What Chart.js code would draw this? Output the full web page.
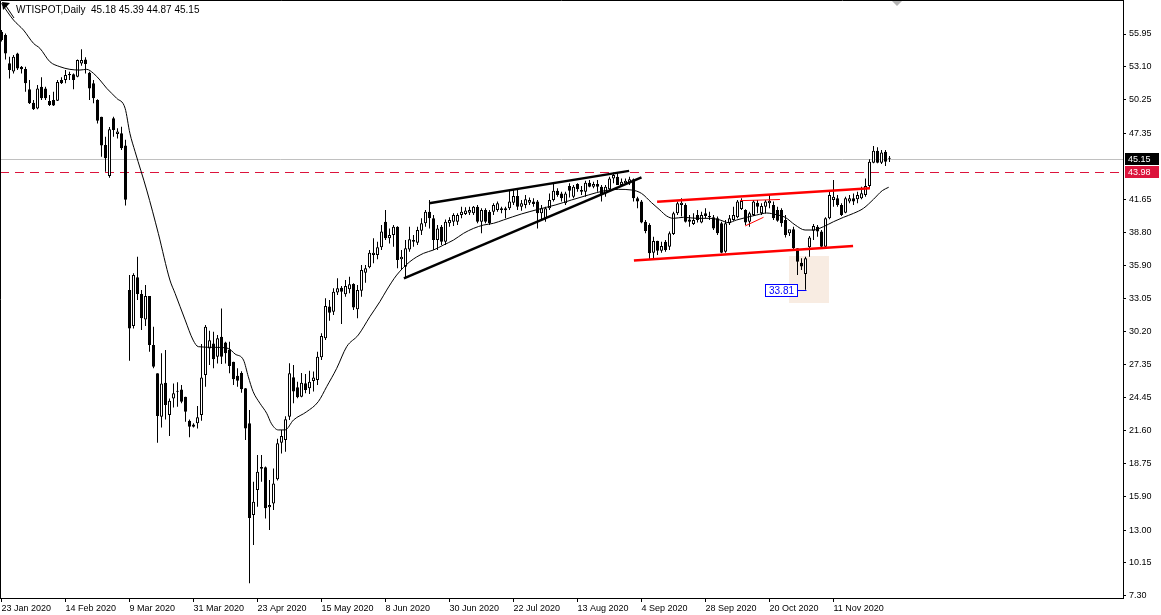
<!DOCTYPE html>
<html>
<head>
<meta charset="utf-8">
<title>WTISPOT Daily</title>
<script src="https://cdn.jsdelivr.net/npm/chart.js@4.4.1/dist/chart.umd.min.js"></script>
<style>
  html, body { margin: 0; padding: 0; background: #fff; }
  canvas { display: block; }
</style>
</head>
<body>
<canvas id="wtiChart" width="1161" height="615"></canvas>
<script>
// daily bars, index 0 = 23 Jan 2020
const opens = [
  56.15, 55.86, 53.41, 52.70, 54.27, 53.12, 52.92, 51.16, 50.00, 49.51,
  51.39, 51.24, 50.15, 50.23, 50.17, 51.97, 51.97, 52.37, 52.46, 52.25,
  53.40, 53.75, 52.60, 51.68, 50.23, 48.79, 46.34, 43.65, 48.65, 47.30,
  47.35, 46.30, 33.78, 30.67, 34.88, 33.44, 31.24, 33.26, 29.02, 26.57,
  22.82, 25.76, 22.96, 24.40, 25.07, 25.18, 24.55, 22.47, 22.15, 22.24,
  22.96, 26.42, 28.73, 29.16, 28.00, 29.74, 29.25, 28.64, 27.58, 26.37,
  26.60, 25.27, 22.24, 14.31, 16.47, 18.30, 18.43, 14.97, 15.31, 17.39,
  20.57, 20.80, 22.82, 26.23, 25.36, 24.55, 25.71, 25.27, 25.90, 26.00,
  27.96, 29.60, 32.35, 31.91, 33.56, 33.99, 33.41, 33.85, 34.31, 32.11,
  33.73, 35.29, 35.75, 36.82, 36.82, 37.48, 39.70, 38.26, 38.55, 39.27,
  36.44, 35.80, 37.30, 37.97, 37.88, 38.92, 39.56, 40.57, 39.99, 38.11,
  39.27, 37.97, 39.56, 39.70, 39.70, 40.28, 40.37, 40.48, 40.42, 41.00,
  39.70, 40.71, 40.57, 40.57, 40.71, 40.86, 40.70, 40.86, 41.35, 41.92,
  41.00, 41.15, 41.35, 41.44, 41.44, 40.42, 39.99, 40.86, 41.58, 42.38,
  42.15, 41.29, 42.79, 41.87, 42.96, 42.44, 42.30, 43.08, 42.73, 42.96,
  42.73, 42.15, 42.50, 43.45, 43.60, 42.87, 43.02, 43.02, 43.37, 41.72,
  41.44, 39.70, 39.41, 37.02, 38.02, 37.19, 37.97, 37.54, 38.63, 40.42,
  41.15, 41.15, 39.90, 39.50, 40.28, 39.62, 40.42, 40.10, 40.08, 39.99,
  39.56, 37.10, 39.56, 39.85, 40.08, 40.80, 40.71, 39.70, 40.28, 41.35,
  40.42, 41.00, 41.29, 41.15, 40.71, 40.71, 39.85, 38.69, 39.04, 37.40,
  36.15, 35.17, 37.48, 38.92, 39.27, 38.84, 37.54, 39.99, 41.58, 41.72,
  41.15, 40.48, 41.44, 41.72, 41.64, 41.72, 42.01, 42.79, 44.81, 45.85,
  44.81, 45.76, 45.18
];
const highs = [
  56.30, 56.00, 53.99, 54.13, 54.33, 53.18, 53.12, 51.97, 50.23, 51.53,
  52.20, 51.39, 50.67, 50.95, 51.97, 52.20, 52.83, 52.69, 52.54, 53.75,
  54.62, 53.93, 52.69, 51.97, 50.30, 48.79, 47.06, 47.90, 48.79, 47.78,
  47.93, 46.80, 35.08, 35.23, 36.67, 33.78, 34.21, 33.26, 30.61, 26.57,
  28.30, 28.59, 24.40, 25.70, 25.79, 25.56, 24.55, 22.58, 22.24, 23.74,
  29.11, 30.75, 30.26, 30.17, 29.90, 32.19, 29.31, 29.31, 27.58, 27.00,
  26.75, 25.30, 23.39, 17.19, 19.50, 19.50, 18.50, 17.33, 18.34, 20.90,
  21.66, 22.85, 27.44, 27.30, 25.85, 26.60, 26.52, 26.80, 26.72, 28.45,
  30.04, 33.07, 32.92, 33.93, 34.80, 34.13, 34.65, 34.94, 34.37, 34.22,
  35.95, 35.95, 37.25, 38.26, 37.97, 39.41, 40.71, 39.12, 39.41, 39.30,
  37.25, 38.11, 39.27, 38.55, 39.27, 39.99, 40.71, 41.58, 40.28, 39.41,
  39.41, 39.90, 40.08, 40.42, 40.42, 41.00, 40.94, 41.00, 41.06, 41.15,
  40.86, 40.86, 40.71, 41.29, 41.44, 41.00, 41.00, 42.44, 42.44, 42.44,
  41.58, 42.01, 41.80, 41.72, 41.58, 41.15, 41.00, 42.15, 43.02, 42.59,
  42.30, 42.30, 43.02, 42.87, 43.02, 42.79, 43.25, 43.31, 43.16, 43.31,
  42.87, 42.87, 43.60, 43.95, 43.89, 43.45, 43.45, 43.60, 43.45, 41.87,
  41.58, 39.85, 39.56, 38.40, 38.05, 37.97, 38.11, 38.84, 40.57, 41.44,
  41.72, 41.29, 40.28, 40.42, 40.71, 40.57, 40.86, 40.57, 40.28, 40.14,
  39.70, 39.85, 40.28, 41.00, 41.58, 41.72, 40.77, 40.57, 41.58, 41.58,
  41.29, 41.58, 42.01, 41.44, 41.00, 40.86, 40.28, 38.98, 39.27, 37.40,
  36.53, 36.67, 38.46, 39.50, 39.42, 38.98, 40.08, 42.30, 43.31, 42.01,
  41.29, 41.87, 42.01, 42.15, 42.30, 42.73, 43.45, 45.10, 46.26, 46.14,
  45.91, 45.91, 45.39
];
const lows = [
  55.30, 53.75, 52.10, 52.54, 52.83, 52.54, 50.95, 49.89, 49.37, 49.43,
  50.23, 50.23, 49.71, 49.71, 50.15, 51.62, 51.68, 51.97, 51.16, 52.20,
  53.20, 52.54, 50.23, 49.95, 48.20, 45.33, 44.03, 43.50, 47.06, 46.90,
  45.90, 41.10, 27.66, 30.46, 32.92, 30.32, 30.67, 28.44, 27.00, 20.56,
  21.89, 22.58, 21.14, 23.62, 23.68, 23.97, 22.38, 21.03, 21.89, 21.80,
  22.47, 25.41, 27.29, 27.00, 27.43, 27.38, 27.43, 26.57, 25.56, 25.41,
  24.90, 20.80, 8.39, 11.71, 15.02, 17.19, 14.01, 13.00, 14.73, 17.30,
  19.64, 19.78, 22.53, 23.98, 24.41, 24.50, 24.84, 24.78, 24.99, 25.56,
  27.73, 29.46, 31.13, 31.62, 33.35, 30.84, 33.21, 33.50, 32.06, 31.33,
  33.21, 34.42, 35.66, 36.10, 36.44, 37.25, 38.11, 37.82, 37.54, 35.66,
  35.52, 34.80, 37.10, 37.54, 37.68, 38.55, 39.27, 39.12, 37.25, 37.25,
  37.68, 37.68, 39.27, 39.33, 39.41, 39.99, 40.28, 40.28, 40.28, 39.56,
  38.69, 39.56, 39.41, 40.28, 40.57, 40.42, 39.99, 40.71, 41.15, 40.71,
  40.65, 40.86, 41.15, 41.00, 39.12, 39.85, 39.70, 40.71, 41.44, 41.87,
  41.44, 41.15, 41.80, 41.72, 42.30, 42.01, 41.87, 42.68, 42.59, 42.30,
  41.44, 41.87, 42.30, 43.02, 42.87, 42.73, 42.87, 42.87, 41.44, 40.86,
  39.56, 38.70, 36.38, 36.53, 36.82, 37.02, 37.10, 37.25, 38.55, 40.28,
  40.14, 39.62, 39.27, 39.41, 39.62, 39.56, 39.99, 39.85, 38.98, 38.55,
  36.96, 37.02, 39.41, 39.79, 39.99, 40.71, 39.41, 39.27, 40.20, 40.42,
  40.28, 40.42, 40.86, 39.85, 39.70, 39.27, 38.34, 38.46, 37.25, 35.08,
  35.52, 33.81, 36.67, 38.11, 38.40, 37.48, 37.40, 39.91, 41.00, 41.00,
  40.20, 40.42, 41.29, 41.15, 41.29, 41.64, 41.87, 42.59, 44.75, 44.75,
  44.70, 44.52, 44.87
];
const closes = [
  55.43, 54.27, 52.83, 53.99, 52.97, 52.89, 51.68, 49.95, 49.43, 51.24,
  50.38, 50.38, 49.80, 49.77, 51.79, 51.68, 52.40, 52.48, 51.97, 53.70,
  53.70, 53.35, 51.24, 50.38, 48.45, 46.30, 45.19, 47.70, 47.64, 47.50,
  46.05, 41.60, 30.46, 35.08, 33.44, 31.33, 33.26, 29.02, 27.14, 22.87,
  25.70, 23.83, 24.20, 24.84, 24.98, 24.11, 23.25, 21.95, 21.95, 22.76,
  26.22, 30.61, 29.44, 27.78, 29.60, 28.01, 28.30, 27.20, 26.05, 25.93,
  25.20, 21.80, 14.05, 15.46, 18.05, 18.46, 14.88, 15.17, 17.04, 20.51,
  21.14, 22.60, 26.57, 24.99, 24.50, 25.76, 25.13, 25.85, 26.20, 28.01,
  29.81, 32.40, 31.82, 33.64, 33.93, 33.64, 34.13, 34.28, 32.26, 33.79,
  35.52, 35.66, 37.02, 37.02, 37.48, 38.84, 38.26, 38.55, 39.27, 36.38,
  36.67, 37.39, 38.17, 38.11, 38.98, 39.56, 40.57, 39.99, 38.11, 39.12,
  37.97, 39.70, 39.84, 40.28, 40.28, 40.57, 40.66, 40.71, 41.00, 39.70,
  40.71, 39.70, 39.56, 41.15, 41.29, 40.71, 40.86, 41.44, 41.92, 41.00,
  41.29, 41.64, 41.58, 41.23, 40.42, 40.86, 40.86, 41.58, 42.38, 42.01,
  41.72, 42.15, 42.38, 42.73, 42.50, 42.30, 43.08, 42.73, 42.96, 42.73,
  42.01, 42.73, 43.45, 43.75, 42.87, 43.16, 43.25, 43.37, 41.72, 41.44,
  39.62, 38.90, 36.96, 38.02, 37.19, 37.60, 37.25, 38.69, 40.42, 41.29,
  41.35, 39.70, 39.70, 39.85, 39.85, 40.28, 40.20, 40.14, 39.12, 38.69,
  37.02, 39.56, 39.99, 40.28, 41.44, 41.50, 39.62, 40.42, 41.44, 41.00,
  41.06, 41.44, 41.52, 39.99, 39.79, 39.56, 38.55, 39.04, 37.40, 36.24,
  35.81, 36.53, 38.34, 39.33, 38.84, 37.54, 39.99, 42.01, 41.87, 41.15,
  40.28, 41.72, 41.72, 41.44, 42.01, 42.16, 42.79, 44.90, 45.85, 44.81,
  45.68, 44.90, 45.15
];

// moving average: bar position, price
const maBars = [
  0, 3, 5.5, 8, 9.6, 12.1, 14.6, 17.1, 19.6, 21.3,
  23, 24.6, 26.3, 28.8, 30.9, 32.1, 33.4, 36.3, 39.2, 42.1,
  43.4, 45.9, 47.9, 49.2, 53.4, 56.7, 58.4, 60.5, 61.7, 62.9,
  64.6, 66.3, 67.5, 69.2, 70.9, 73, 76.3, 79.2, 81.3, 83.8,
  86.3, 89.2, 92.1, 94.6, 96.3, 98.8, 102.1, 105.5, 108, 110.5,
  113, 115.5, 118, 120.5, 123, 125.5, 130, 134.2, 138.4, 142.5,
  146.7, 150.9, 154.2, 157.6, 160, 162.5, 164.6, 166.3, 168, 170.5,
  173.8, 177.1, 179.6, 181.7, 183.8, 186.3, 188.8, 191.3, 193.8, 195.9,
  198.4, 200.9, 202.9, 205.5, 208, 210.5, 213, 215.5, 218, 220.2,
  221.8
];
const maValues = [
  58.60, 57.16, 56.29, 55.14, 54.71, 53.55, 53.12, 52.89, 52.83, 52.89,
  52.54, 51.97, 51.25, 50.38, 49.52, 47.35, 45.76, 42.44, 38.69, 34.65,
  33.49, 31.20, 29.45, 28.88, 28.82, 28.73, 28.24, 27.72, 26.28, 24.99,
  23.98, 23.11, 22.20, 21.67, 21.67, 22.53, 23.25, 24.12, 25.42, 27.00,
  28.88, 29.89, 31.48, 32.78, 33.78, 35.08, 36.24, 36.96, 37.25, 37.68,
  38.11, 38.69, 39.12, 39.41, 39.56, 39.85, 40.37, 40.77, 41.14, 41.58,
  42.01, 42.39, 42.50, 42.44, 42.15, 41.35, 40.71, 40.19, 39.99, 40.08,
  39.99, 39.99, 39.85, 39.62, 39.85, 40.08, 40.28, 40.45, 40.30, 40.08,
  39.42, 38.98, 38.98, 39.27, 39.70, 40.08, 40.42, 40.86, 41.64, 42.39,
  42.68
];

// axis labels
const xTickBars = [0, 16, 32, 48, 64, 80, 96, 112, 128, 144, 160, 176, 192, 208];
const xTickLabels = ['23 Jan 2020', '14 Feb 2020', '9 Mar 2020', '31 Mar 2020', '23 Apr 2020',
  '15 May 2020', '8 Jun 2020', '30 Jun 2020', '22 Jul 2020', '13 Aug 2020', '4 Sep 2020',
  '28 Sep 2020', '20 Oct 2020', '11 Nov 2020'];
const yTickValues = [55.95, 53.10, 50.25, 47.35, 41.65, 38.80, 35.90, 33.05, 30.20,
  27.35, 24.45, 21.60, 18.75, 15.90, 13.00, 10.15, 7.30];

// drawn objects: [bar, price] ends
const wedgeTop = [[106.9, 41.29], [156.9, 44.10]];
const wedgeBottom = [[100.6, 34.79], [160.0, 43.54]];
const channelTop = [[163.9, 41.43], [217.1, 42.59]];
const channelBottom = [[158.1, 36.35], [212.9, 37.60]];
const minorTrend = [[185.9, 39.33], [190.5, 40.08]];
const minorTop = [[184.6, 41.52], [194.6, 41.62]];
const zoneBars = [196.9, 206.9];
const zonePrices = [32.65, 36.73];
const lowMarkBar = 201;
const lowMarkPrice = 33.81;
const bidPrice = 45.15;
const levelPrice = 43.98;
const titleText = 'WTISPOT,Daily  45.18 45.39 44.87 45.15';

const FONT = '"Liberation Sans", Arial, sans-serif';

function toPoints(pairs) {
  return pairs.map(p => ({ x: p[0], y: p[1] }));
}

function trendLine(pairs, color, width) {
  return {
    type: 'line', data: toPoints(pairs), borderColor: color, borderWidth: width,
    pointRadius: 0, fill: false, order: 0
  };
}

const overlay = {
  id: 'overlay',
  beforeDatasetsDraw(chart) {
    const { ctx, chartArea: a, scales: { x, y } } = chart;
    ctx.save();
    const zx0 = Math.round(x.getPixelForValue(zoneBars[0]));
    const zx1 = Math.round(x.getPixelForValue(zoneBars[1]));
    const zy0 = Math.round(y.getPixelForValue(zonePrices[1]));
    const zy1 = Math.round(y.getPixelForValue(zonePrices[0]));
    ctx.fillStyle = '#f8ece2';
    ctx.fillRect(zx0, zy0, zx1 - zx0, zy1 - zy0);

    ctx.lineWidth = 1;
    const yb = Math.round(y.getPixelForValue(bidPrice)) + 0.5;
    ctx.strokeStyle = '#c0c0c0';
    ctx.beginPath(); ctx.moveTo(a.left, yb); ctx.lineTo(a.right, yb); ctx.stroke();

    const yl = Math.round(y.getPixelForValue(levelPrice)) + 0.5;
    ctx.strokeStyle = '#dc143c';
    ctx.setLineDash([9, 6]);
    ctx.beginPath(); ctx.moveTo(a.left, yl); ctx.lineTo(a.right, yl); ctx.stroke();
    ctx.restore();
  },
  afterDraw(chart) {
    const { ctx, chartArea: a, scales: { x, y } } = chart;
    ctx.save();
    // frame
    ctx.strokeStyle = '#000';
    ctx.lineWidth = 1;
    ctx.beginPath();
    ctx.moveTo(0.5, a.bottom); ctx.lineTo(0.5, 0.5); ctx.lineTo(a.right, 0.5);
    ctx.stroke();

    // title
    ctx.fillStyle = '#000';
    ctx.beginPath();
    ctx.moveTo(2, 2); ctx.lineTo(10, 3); ctx.lineTo(3, 10); ctx.closePath(); ctx.fill();
    ctx.beginPath(); ctx.moveTo(6, 6); ctx.lineTo(14, 18); ctx.stroke();
    ctx.font = '10px ' + FONT;
    ctx.textBaseline = 'alphabetic';
    ctx.textAlign = 'left';
    ctx.fillText(titleText, 16, 13);

    // chart shift marker
    ctx.fillStyle = '#b4b4b4';
    ctx.beginPath(); ctx.moveTo(892, 1); ctx.lineTo(902, 1); ctx.lineTo(897, 6); ctx.closePath(); ctx.fill();

    // price boxes on the axis
    ctx.font = '9px ' + FONT;
    ctx.textBaseline = 'middle';
    const boxes = [[bidPrice, '#000000'], [levelPrice, '#dc143c']];
    boxes.forEach(([price, bg]) => {
      const yc = Math.round(y.getPixelForValue(price));
      ctx.fillStyle = bg;
      ctx.fillRect(a.right + 2, yc - 6, 34, 12);
      ctx.fillStyle = '#fff';
      ctx.fillText(price.toFixed(2), a.right + 5, yc + 0.5);
    });

    // low price label
    const lx = Math.round(x.getPixelForValue(lowMarkBar)) + 0.5;
    const ly = Math.round(y.getPixelForValue(lowMarkPrice)) + 0.5;
    const bw = 32, bh = 12;
    const bx = lx - 9 - bw;
    ctx.fillStyle = '#fff';
    ctx.fillRect(bx, ly - 6, bw, bh);
    ctx.strokeStyle = '#0000ff';
    ctx.strokeRect(bx, ly - 6, bw, bh);
    ctx.beginPath(); ctx.moveTo(bx + bw, ly); ctx.lineTo(lx, ly); ctx.stroke();
    ctx.fillStyle = '#0000ff';
    ctx.font = '10px ' + FONT;
    ctx.textAlign = 'center';
    ctx.fillText(lowMarkPrice.toFixed(2), bx + bw / 2, ly + 0.5);
    ctx.restore();
  }
};

const wickData = lows.map((l, i) => ({ x: i, y: [l, highs[i]] }));
const bodyData = opens.map((o, i) => ({ x: i, y: [Math.min(o, closes[i]), Math.max(o, closes[i])] }));
const bodyFill = opens.map((o, i) => (closes[i] >= o ? '#ffffff' : '#000000'));
const maPoints = maBars.map((b, i) => ({ x: b, y: maValues[i] }));

new Chart(document.getElementById('wtiChart').getContext('2d'), {
  type: 'bar',
  data: {
    datasets: [
      trendLine(wedgeTop, '#000', 2.5),
      trendLine(wedgeBottom, '#000', 2.5),
      trendLine(channelTop, '#ff0000', 2.5),
      trendLine(channelBottom, '#ff0000', 2.5),
      trendLine(minorTrend, '#ff0000', 1),
      trendLine(minorTop, '#ff0000', 1),
      {
        type: 'line', data: maPoints, borderColor: '#000', borderWidth: 1,
        pointRadius: 0, cubicInterpolationMode: 'monotone', fill: false, order: 1
      },
      {
        type: 'bar', data: bodyData, backgroundColor: bodyFill, borderColor: '#000',
        borderWidth: 1, borderSkipped: false, barThickness: 3, minBarLength: 1,
        grouped: false, inflateAmount: 0, order: 2
      },
      {
        type: 'bar', data: wickData, backgroundColor: '#000', borderWidth: 0,
        barThickness: 1, grouped: false, inflateAmount: 0, order: 3
      }
    ]
  },
  options: {
    responsive: false,
    animation: false,
    devicePixelRatio: 1,
    layout: { padding: 0 },
    events: [],
    plugins: { legend: { display: false }, tooltip: { enabled: false } },
    scales: {
      x: {
        type: 'linear', min: -0.375, max: 280.375, offset: false,
        grid: { drawOnChartArea: false, drawTicks: true, tickLength: 4, offset: false, color: '#000' },
        border: { display: true, color: '#000' },
        afterBuildTicks: s => { s.ticks = xTickBars.map(v => ({ value: v })); },
        afterFit: s => { s.height = 17; s.paddingLeft = 0; s.paddingRight = 0; },
        ticks: {
          autoSkip: false, maxRotation: 0, minRotation: 0, align: 'start', padding: 1,
          color: '#000', font: { family: FONT, size: 9 },
          callback: (v, i) => xTickLabels[i]
        }
      },
      y: {
        type: 'linear', position: 'right', min: 7.119, max: 58.894, beginAtZero: false,
        grid: { drawOnChartArea: false, drawTicks: true, tickLength: 3, color: '#000' },
        border: { display: true, color: '#000' },
        afterBuildTicks: s => { s.ticks = yTickValues.map(v => ({ value: v })); },
        afterFit: s => { s.width = 38; s.paddingTop = 0; s.paddingBottom = 0; },
        ticks: {
          autoSkip: false, padding: 3, color: '#000', font: { family: FONT, size: 9 },
          callback: v => v.toFixed(2)
        }
      }
    }
  },
  plugins: [overlay]
});
</script>
</body>
</html>
